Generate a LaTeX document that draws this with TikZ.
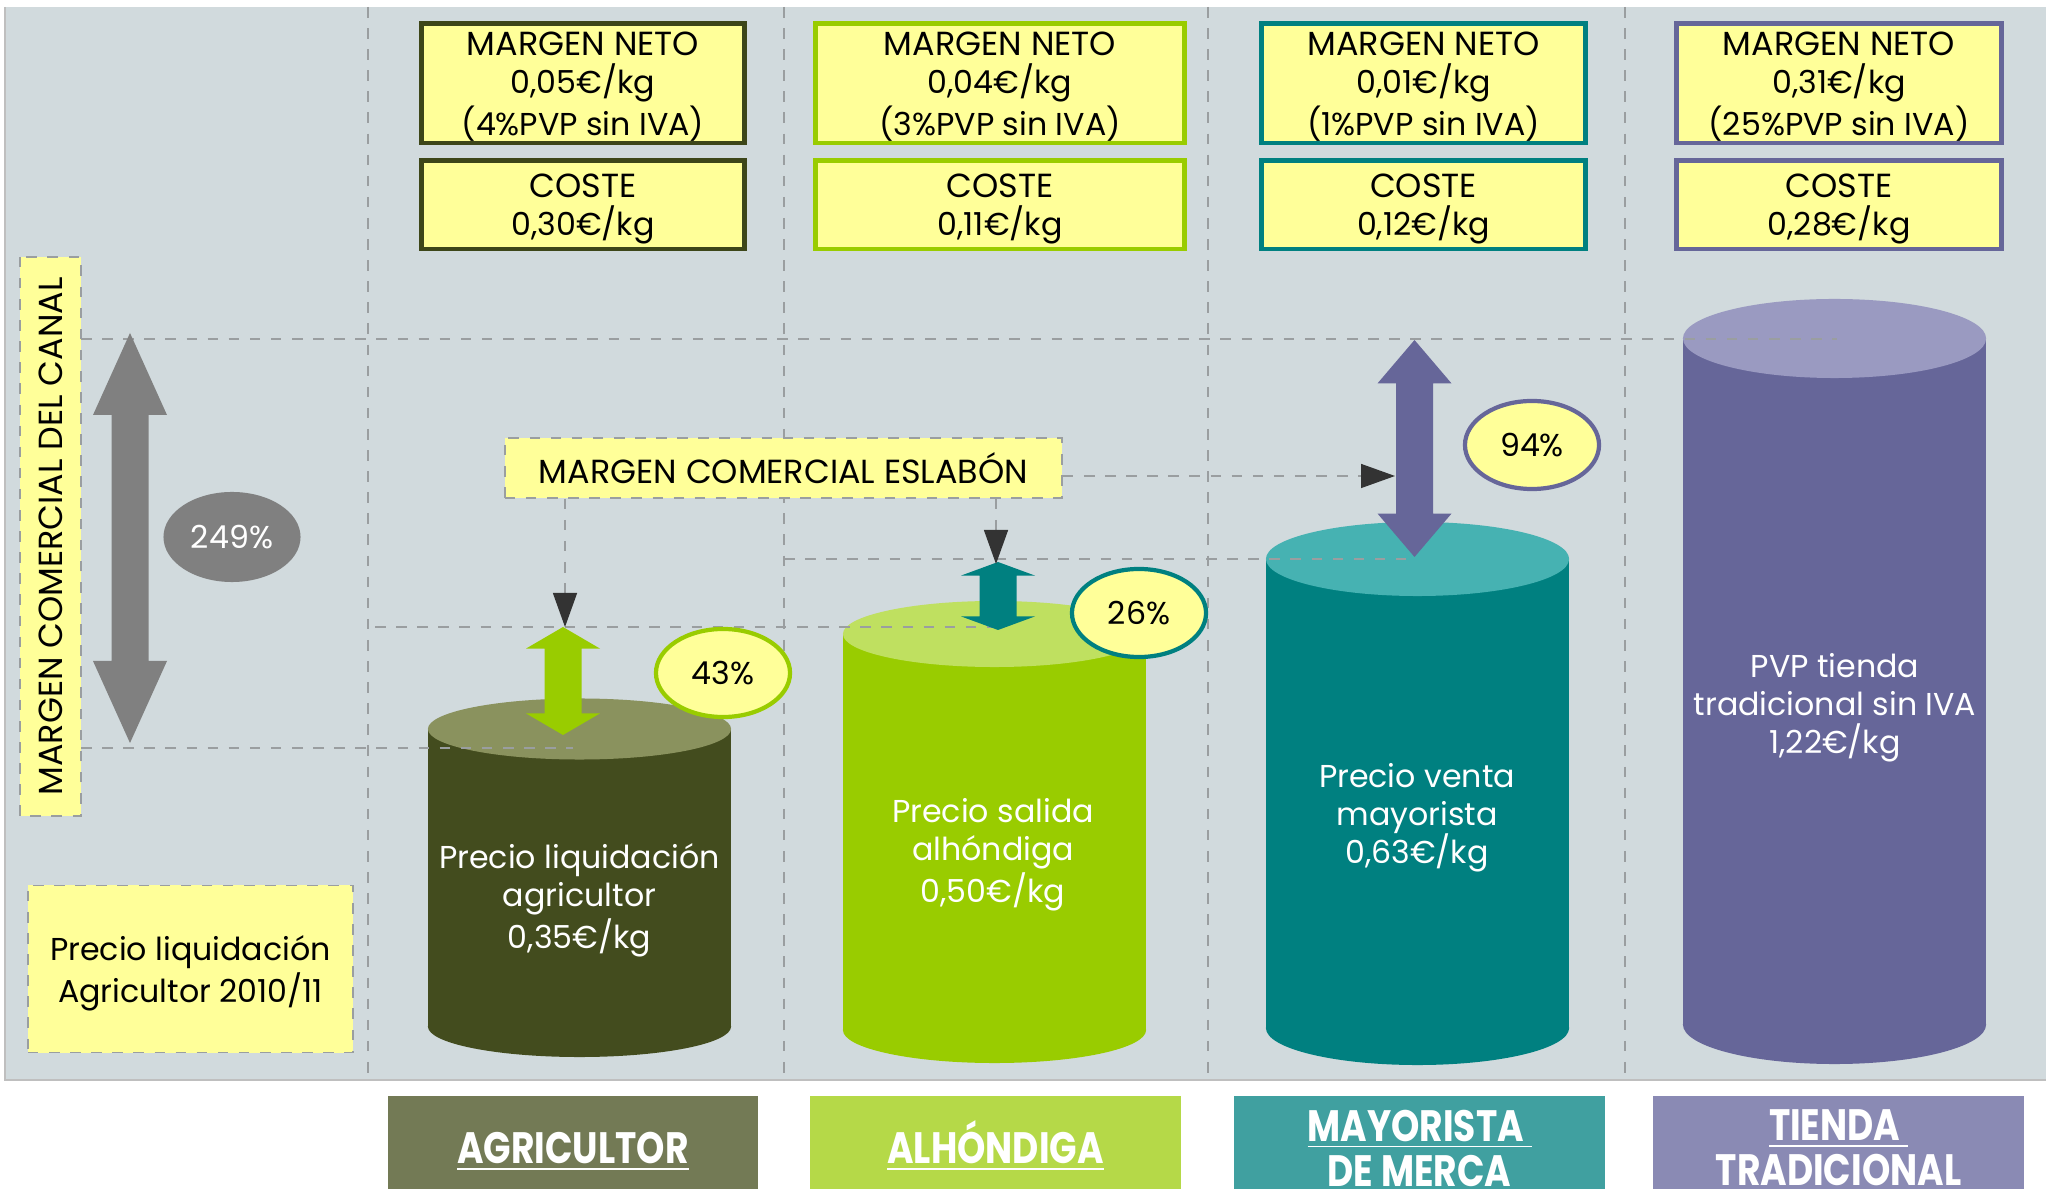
\documentclass[tikz,border=0pt]{standalone}
\usepackage{fontspec}
\setmainfont{Poppins}
\newfontfamily\catfont[FakeStretch=0.82]{Poppins}
\usetikzlibrary{positioning,shapes.geometric,arrows.meta}

\definecolor{bggray}{HTML}{D1DADD}
\definecolor{boxyellow}{HTML}{FFFF99}
\definecolor{guidegray}{HTML}{9A9EA0}
\definecolor{tipgray}{HTML}{333333}
\definecolor{arrgray}{HTML}{808080}
\definecolor{colAgr}{HTML}{434C1E}
\definecolor{colAgrTop}{HTML}{8A925E}
\definecolor{colAgrLine}{HTML}{3D4619}
\definecolor{colAgrCat}{HTML}{737A55}
\definecolor{colAlh}{HTML}{99CC00}
\definecolor{colAlhTop}{HTML}{BFE060}
\definecolor{colAlhCat}{HTML}{B5D948}
\definecolor{colMay}{HTML}{008080}
\definecolor{colMayTop}{HTML}{46B2B2}
\definecolor{colMayCat}{HTML}{40A0A0}
\definecolor{colTie}{HTML}{666699}
\definecolor{colTieTop}{HTML}{9A9AC1}
\definecolor{colTieCat}{HTML}{8A8AB4}

\newcommand{\capsz}{\fontsize{9.5}{10.8}\selectfont}
% cylinder: x, top y, bottom y, y radius, body colour, top colour
\newcommand{\cyl}[6]{%
  \fill[#5] ({#1-151.5},#2) rectangle ({#1+151.5},#3);
  \fill[#5] (#1,#3) ellipse [x radius=1.515cm, y radius=#4];
  \fill[#6] (#1,#2) ellipse [x radius=1.515cm, y radius=#4];}
% double block arrow: colour, x, top y, bottom y
\newcommand{\dblarr}[4]{%
  \pgfmathsetmacro{\hl}{0.2*(#4-#3)}%
  \pgfmathsetmacro{\sl}{0.6*(#4-#3)}%
  \fill[#1] (#2,#3) -- ++(37,\hl) -- ++(-18.5,0) -- ++(0,\sl) -- ++(18.5,0)
    -- (#2,#4) -- ++(-37,-\hl) -- ++(18.5,0) -- ++(0,-\sl) -- ++(-18.5,0) -- cycle;}

\begin{document}
\begin{tikzpicture}[x=0.01cm, y=-0.01cm,
  txt/.style={font=\fontsize{9}{10.8}\selectfont},
  net box/.style={txt, draw=#1, line width=1.4pt, fill=boxyellow, align=center, inner sep=0pt, text depth=0pt, minimum height=1.19cm},
  cost box/.style={net box=#1, minimum height=0.88cm},
  note box/.style={txt, draw=guidegray, dashed, thin, fill=boxyellow, align=center, inner sep=0pt},
  pct node/.style={txt, ellipse, draw=#1, line width=1.2pt, fill=boxyellow, inner sep=0pt, minimum width=1.34cm, minimum height=0.88cm},
  cyl text/.style={txt, text=white, align=center},
  cat box/.style={fill=#1, text=white, align=center, inner sep=0pt, text depth=0pt, minimum width=3.7cm, minimum height=1.04cm, font=\catfont\bfseries\fontsize{12.5}{12.8}\selectfont},
  grid/.style={color=guidegray, dashed, line width=0.4pt},
  pointer/.style={color=guidegray, dashed, line width=0.4pt, -{Triangle[width=0.24cm, length=0.34cm, color=tipgray]}}]

  \useasboundingbox (0,0) rectangle (2046,1189);
  \clip (0,0) rectangle (2046,1189);

  % background and column grid
  \fill[bggray] (5,7) rectangle (2046,1080);
  \draw[black!25, line width=0.6pt] (5,7) -- (5,1080) -- (2046,1080);
  \path[grid]
    (368,7) edge (368,1080)
    (784,7) edge (784,1080)
    (1208,7) edge (1208,1080)
    (1625,7) edge (1625,1080);

  % cylinders
  \cyl{579.5}{729}{1026.5}{0.305cm}{colAgr}{colAgrTop}
  \cyl{994.5}{634}{1030}{0.33cm}{colAlh}{colAlhTop}
  \cyl{1417.5}{559}{1028}{0.37cm}{colMay}{colMayTop}
  \cyl{1834.5}{338.5}{1024.5}{0.395cm}{colTie}{colTieTop}

  \node[cyl text] (p1) at (579.5,900) {Precio liquidación\\agricultor\\0,35€/kg};
  \node[cyl text] (p2) at (993,855) {Precio salida\\alhóndiga\\0,50€/kg};
  \node[cyl text] (p3) at (1417,818) {Precio venta\\mayorista\\0,63€/kg};
  \node[cyl text] (p4) at (1835,708) {PVP tienda\\tradicional sin IVA\\1,22€/kg};

  % guide lines
  \path[grid]
    (81,339) edge (1837,339)
    (81,748) edge (573,748)
    (375,627) edge (995,627)
    (784,559) edge (1416,559);

  % margin arrows
  \dblarr{arrgray}{130}{333}{743}
  \dblarr{colAlh}{563}{627}{735}
  \dblarr{colMay}{998}{562}{630}
  \dblarr{colTie}{1414.5}{340}{557}

  \node[txt, ellipse, fill=arrgray, text=white, inner sep=0pt, minimum width=1.37cm, minimum height=0.9cm] (q0) at (232,537) {249\%};
  \node[pct node=colAlh] (q1) at (723,673) {43\%};
  \node[pct node=colMay] (q2) at (1139,613) {26\%};
  \node[pct node=colTie] (q3) at (1532,445) {94\%};

  % labels
  \node[note box, rotate=90, font=\capsz, minimum width=5.59cm, minimum height=0.61cm] (mc) at (50.5,536.5) {MARGEN COMERCIAL DEL CANAL};
  \node[note box, text depth=0pt, minimum width=3.25cm, minimum height=1.67cm] (pa) at (190.5,969) {Precio liquidación\\Agricultor 2010/11};
  \node[note box, font=\capsz, minimum width=5.57cm, minimum height=0.6cm] (esl) at (783.5,468) {MARGEN COMERCIAL ESLABÓN};

  \coordinate (t1) at (565,627);
  \coordinate (t2) at (996,564);
  \coordinate (t3) at (1395,476);
  \path[pointer]
    (esl.south -| t1) edge (t1)
    (esl.south -| t2) edge (t2)
    (esl.east |- t3) edge (t3);

  % margin and cost boxes
  \node[net box=colAgrLine, minimum width=3.22cm] (mn1) at (583,83.5) {{\capsz MARGEN NETO}\\0,05€/kg\\(4\%PVP sin IVA)};
  \node[net box=colAlh, minimum width=3.68cm] (mn2) at (1000,83.5) {{\capsz MARGEN NETO}\\0,04€/kg\\(3\%PVP sin IVA)};
  \node[net box=colMay, minimum width=3.23cm] (mn3) at (1423.5,83.5) {{\capsz MARGEN NETO}\\0,01€/kg\\(1\%PVP sin IVA)};
  \node[net box=colTie, minimum width=3.24cm] (mn4) at (1839,83.5) {{\capsz MARGEN NETO}\\0,31€/kg\\(25\%PVP sin IVA)};

  \node[cost box=colAgrLine, minimum width=3.22cm] (co1) [below=0.13cm of mn1] {{\capsz COSTE}\\0,30€/kg};
  \node[cost box=colAlh, minimum width=3.68cm] (co2) [below=0.13cm of mn2] {{\capsz COSTE}\\0,11€/kg};
  \node[cost box=colMay, minimum width=3.23cm] (co3) [below=0.13cm of mn3] {{\capsz COSTE}\\0,12€/kg};
  \node[cost box=colTie, minimum width=3.24cm] (co4) [below=0.13cm of mn4] {{\capsz COSTE}\\0,28€/kg};

  % chain links
  \node[cat box=colAgrCat, text height=9pt] (k1) at (573,1148) {\underline{AGRICULTOR}};
  \node[cat box=colAlhCat, text height=9pt] (k2) at (995.5,1148) {\underline{ALHÓNDIGA}};
  \node[cat box=colMayCat] (k3) at (1419.5,1148) {\underline{MAYORISTA\ }\\\underline{DE MERCA}};
  \node[cat box=colTieCat] (k4) at (1838.5,1148) {\underline{TIENDA\ }\\\underline{TRADICIONAL}};
\end{tikzpicture}
\end{document}
